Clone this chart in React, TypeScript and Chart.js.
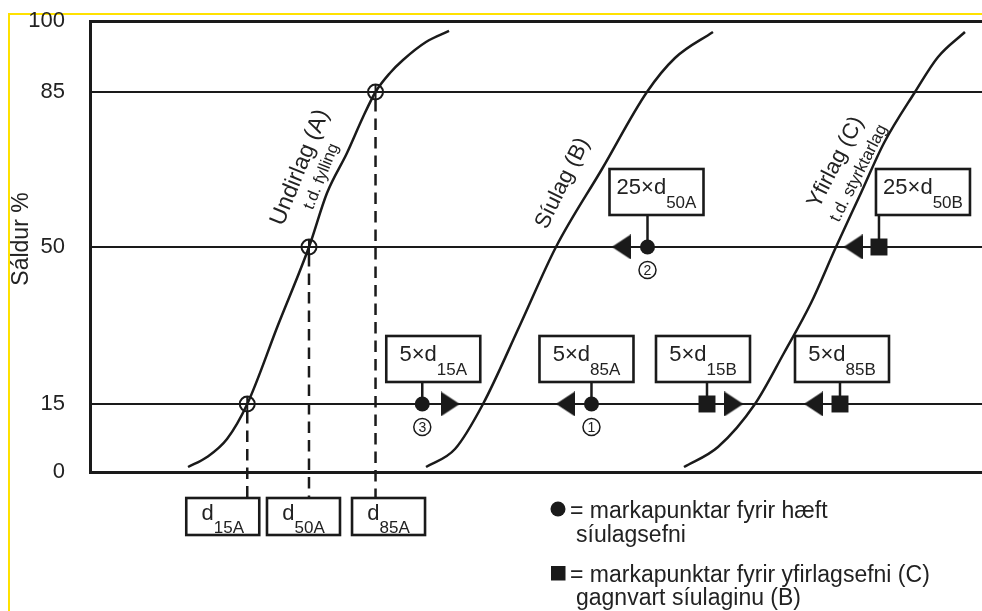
import React, { useEffect, useRef } from 'react';
import { Chart, registerables, LinearScale } from 'chart.js';

Chart.register(...registerables);

// ---------- data ----------
const yTicks = [0, 15, 50, 85, 100];
// fraction of the axis height at which each tick value sits (the original axis is not uniform)
const yTickFractions = [0, 0.1508, 0.4989, 0.8426, 1];

// grading curves (x: relative grain size index 0-100, y: passing %)
const curveA_x = [10.99, 13.12, 15.36, 17.63, 21.08, 24.55, 26.57, 28.81, 30.61, 32.01, 33.63, 35.09, 37.67, 40.25];
const curveA_y = [1.1, 3.31, 7.28, 15, 32.61, 50, 62.19, 71.22, 79.35, 85, 89.01, 91.76, 95.56, 97.89];
const curveB_x = [37.67, 40.92, 44.06, 48.21, 52.24, 57.4, 62.44, 65.58, 69.84];
const curveB_y = [1.1, 5.07, 15, 32.61, 50, 67.61, 85, 92.18, 97.68];
const curveC_x = [66.59, 70.4, 74.55, 77.8, 80.83, 83.63, 86.43, 89.01, 92.49, 95.07, 98.09];
const curveC_y = [1.1, 5.52, 15, 26.37, 37.51, 50, 62.19, 73.48, 85, 92.39, 97.68];

// characteristic points of the base layer (A)
const gradeA_x = [17.63, 24.55, 32.01];
const gradeA_y = [15, 50, 85];
const gradeA_sub = ['15A', '50A', '85A'];

// filter criteria for layer B (circles) and for layer C (squares)
const critB_x = [37.25, 56.22, 62.5];
const critB_y = [15, 15, 50];
const critB_main = ['5×d', '5×d', '25×d'];
const critB_sub = ['15A', '85A', '50A'];
const critB_num = ['3', '1', '2'];
const critC_x = [69.17, 84.08, 88.45];
const critC_y = [15, 15, 50];
const critC_main = ['5×d', '5×d', '25×d'];
const critC_sub = ['15B', '85B', '50B'];

// direction arrows (min bounds point right, max bounds point left)
const arrowRight_x = [40.38, 72.17];
const arrowRight_y = [15, 15];
const arrowLeft_x = [53.31, 81.11, 59.57, 85.55];
const arrowLeft_y = [15, 15, 50, 50];

// curve labels
const curveLabelText = ['Undirlag (A)', 't.d. fylling', 'Síulag (B)', 'Yfirlag (C)', 't.d. styrktarlag'];
const curveLabel_x = [23.54, 25.95, 52.99, 83.61, 86.19];
const curveLabel_y = [67.95, 65.92, 64.38, 69.12, 66.64];

const yTitle = 'Sáldur %';
const legendLines = [
  '= markapunktar fyrir hæft',
  'síulagsefni',
  '= markapunktar fyrir yfirlagsefni (C)',
  'gagnvart síulaginu (B)',
];

// ---------- layout / style ----------
const INK = '#1a1a1a';
const TEXT = '#222222';
const FONT = "'Liberation Sans', Arial, Helvetica, sans-serif";
const critB_boxDx = [-36, -52, -38];
const critC_boxDx = [-51, -45, -3];
const gradeBoxDx = [-61, -42, -23.5];
const curveLabelStyle = [
  { size: 23, angle: -68 },
  { size: 16.5, angle: -68 },
  { size: 22, angle: -64 },
  { size: 22, angle: -63 },
  { size: 17, angle: -63 },
];

function interp(v: number, xs: number[], ys: number[]) {
  let i = 0;
  while (i < xs.length - 2 && v > xs[i + 1]) i++;
  const t = (v - xs[i]) / (xs[i + 1] - xs[i]);
  return ys[i] + t * (ys[i + 1] - ys[i]);
}

class SegmentedScale extends LinearScale {
  static id = 'segmented';
  static defaults = { ...(LinearScale as any).defaults };
  getPixelForValue(value: number) {
    if (value === null || value === undefined || Number.isNaN(value)) return NaN;
    return (this as any).getPixelForDecimal(interp(value, yTicks, yTickFractions));
  }
  getValueForPixel(pixel: number) {
    return interp((this as any).getDecimalForPixel(pixel), yTickFractions, yTicks);
  }
}
Chart.register(SegmentedScale as any);

const pts = (xs: number[], ys: number[]) => xs.map((x, i) => ({ x, y: ys[i] }));

function makeTriangle(): HTMLCanvasElement {
  const c = document.createElement('canvas');
  c.width = 19;
  c.height = 25;
  const g = c.getContext('2d')!;
  g.fillStyle = INK;
  g.beginPath();
  g.moveTo(0, 0);
  g.lineTo(19, 12.5);
  g.lineTo(0, 25);
  g.closePath();
  g.fill();
  return c;
}

function drawBox(ctx: CanvasRenderingContext2D, left: number, top: number, w: number, h: number,
  main: string, sub: string, mainBase: number, subBase: number) {
  ctx.save();
  ctx.fillStyle = '#ffffff';
  ctx.fillRect(left, top, w, h);
  ctx.lineWidth = 2.6;
  ctx.strokeStyle = INK;
  ctx.strokeRect(left, top, w, h);
  ctx.font = `22px ${FONT}`;
  const mw = ctx.measureText(main).width;
  ctx.font = `17px ${FONT}`;
  const sw = ctx.measureText(sub).width;
  const start = left + (w - mw - sw) / 2;
  ctx.fillStyle = TEXT;
  ctx.textAlign = 'left';
  ctx.textBaseline = 'alphabetic';
  ctx.font = `22px ${FONT}`;
  ctx.fillText(main, start, top + mainBase);
  ctx.font = `17px ${FONT}`;
  ctx.fillText(sub, start + mw, top + subBase);
  ctx.restore();
}

const zeroPadding = (s: any) => {
  s.paddingTop = 0;
  s.paddingBottom = 0;
  s.paddingLeft = 0;
  s.paddingRight = 0;
};

const annotations = {
  id: 'sieveAnnotations',
  beforeDatasetsDraw(chart: any) {
    const { ctx, chartArea } = chart;
    const x = chart.scales.x;
    const y = chart.scales.y;
    ctx.save();
    ctx.strokeStyle = INK;
    ctx.lineWidth = 2.5;
    // dashed drop lines from the d-points
    ctx.setLineDash([11.5, 7]);
    gradeA_x.forEach((v, i) => {
      const px = x.getPixelForValue(v);
      const py = y.getPixelForValue(gradeA_y[i]);
      ctx.beginPath();
      ctx.moveTo(px, py + 8);
      ctx.lineTo(px, chartArea.bottom + 26);
      ctx.stroke();
    });
    ctx.setLineDash([]);
    // stems from markers to boxes
    const stems = (xs: number[], ys: number[]) => xs.forEach((v, i) => {
      const px = x.getPixelForValue(v);
      const py = y.getPixelForValue(ys[i]);
      const gap = ys[i] >= 50 ? 32 : 22;
      ctx.beginPath();
      ctx.moveTo(px, py);
      ctx.lineTo(px, py - gap);
      ctx.stroke();
    });
    stems(critB_x, critB_y);
    stems(critC_x, critC_y);
    ctx.restore();
  },
  afterDatasetsDraw(chart: any) {
    const { ctx, chartArea } = chart;
    const x = chart.scales.x;
    const y = chart.scales.y;

    // criteria boxes
    const boxes = (xs: number[], ys: number[], dx: number[], main: string[], sub: string[]) => xs.forEach((v, i) => {
      const px = x.getPixelForValue(v);
      const py = y.getPixelForValue(ys[i]);
      const gap = ys[i] >= 50 ? 32 : 22;
      const h = 46;
      const top = py - gap - h;
      drawBox(ctx, px + dx[i], top, 94, h, main[i], sub[i], 25.5, 39.5);
    });
    boxes(critB_x, critB_y, critB_boxDx, critB_main, critB_sub);
    boxes(critC_x, critC_y, critC_boxDx, critC_main, critC_sub);

    // d-point boxes below the axis
    gradeA_x.forEach((v, i) => {
      const px = x.getPixelForValue(v);
      drawBox(ctx, px + gradeBoxDx[i], chartArea.bottom + 26, 73, 37, 'd', gradeA_sub[i], 22, 35);
    });

    // circled numbers
    ctx.save();
    critB_x.forEach((v, i) => {
      const px = x.getPixelForValue(v);
      const py = y.getPixelForValue(critB_y[i]) + 23;
      ctx.beginPath();
      ctx.arc(px, py, 8.5, 0, Math.PI * 2);
      ctx.fillStyle = '#ffffff';
      ctx.fill();
      ctx.lineWidth = 1.5;
      ctx.strokeStyle = INK;
      ctx.stroke();
      ctx.fillStyle = TEXT;
      ctx.font = `14px ${FONT}`;
      ctx.textAlign = 'center';
      ctx.textBaseline = 'middle';
      ctx.fillText(critB_num[i], px, py + 1);
    });
    ctx.restore();

    // curve labels
    ctx.save();
    ctx.fillStyle = TEXT;
    ctx.textAlign = 'center';
    ctx.textBaseline = 'middle';
    curveLabelText.forEach((t, i) => {
      const px = x.getPixelForValue(curveLabel_x[i]);
      const py = y.getPixelForValue(curveLabel_y[i]);
      ctx.save();
      ctx.translate(px, py);
      ctx.rotate((curveLabelStyle[i].angle * Math.PI) / 180);
      ctx.font = `${curveLabelStyle[i].size}px ${FONT}`;
      ctx.fillText(t, 0, 0);
      ctx.restore();
    });
    ctx.restore();

    // y title
    ctx.save();
    ctx.translate(28.3, 239);
    ctx.rotate(-Math.PI / 2);
    ctx.font = `23px ${FONT}`;
    ctx.fillStyle = TEXT;
    ctx.textAlign = 'center';
    ctx.textBaseline = 'alphabetic';
    ctx.fillText(yTitle, 0, 0);
    ctx.restore();

    // legend
    const b = chartArea.bottom;
    ctx.save();
    ctx.fillStyle = INK;
    ctx.beginPath();
    ctx.arc(558, b + 37, 7.5, 0, Math.PI * 2);
    ctx.fill();
    ctx.fillRect(551, b + 94, 14.5, 14.5);
    ctx.fillStyle = TEXT;
    ctx.font = `23px ${FONT}`;
    ctx.textAlign = 'left';
    ctx.textBaseline = 'alphabetic';
    ctx.fillText(legendLines[0], 570, b + 46);
    ctx.fillText(legendLines[1], 576, b + 69.5);
    ctx.fillText(legendLines[2], 570, b + 109.5);
    ctx.fillText(legendLines[3], 576, b + 132.5);
    ctx.restore();
  },
};

export default function App() {
  const ref = useRef<HTMLCanvasElement>(null);
  useEffect(() => {
    const canvas = ref.current;
    if (!canvas) return;
    const tri = makeTriangle();
    const curve = (label: string, xs: number[], ys: number[]) => ({
      label,
      data: pts(xs, ys),
      showLine: true,
      borderColor: INK,
      borderWidth: 2.5,
      pointRadius: 0,
      cubicInterpolationMode: 'monotone',
      fill: false,
    });
    const chart = new Chart(canvas, {
      type: 'scatter',
      data: {
        datasets: [
          { label: 'd ring', data: pts(gradeA_x, gradeA_y), pointStyle: 'circle', pointRadius: 7.5, pointBorderWidth: 2, pointBorderColor: INK, pointBackgroundColor: 'rgba(255,255,255,0)' },
          { label: 'd cross', data: pts(gradeA_x, gradeA_y), pointStyle: 'cross', pointRadius: 7.5, pointBorderWidth: 2, pointBorderColor: INK },
          { label: 'criteria B', data: pts(critB_x, critB_y), pointStyle: 'circle', pointRadius: 7.5, pointBorderWidth: 0, pointBackgroundColor: INK },
          { label: 'criteria C', data: pts(critC_x, critC_y), pointStyle: 'rect', pointRadius: 12, pointBorderWidth: 0, pointBackgroundColor: INK },
          { label: 'min arrows', data: pts(arrowRight_x, arrowRight_y), pointStyle: tri, pointRadius: 10, pointRotation: 0 },
          { label: 'max arrows', data: pts(arrowLeft_x, arrowLeft_y), pointStyle: tri, pointRadius: 10, pointRotation: 180 },
          curve('A', curveA_x, curveA_y),
          curve('B', curveB_x, curveB_y),
          curve('C', curveC_x, curveC_y),
        ] as any,
      },
      options: {
        animation: false,
        responsive: false,
        devicePixelRatio: 1,
        events: [],
        layout: { autoPadding: false, padding: { top: 21, left: 0, right: 0, bottom: 0 } },
        plugins: { legend: { display: false }, tooltip: { enabled: false }, title: { display: false } },
        scales: {
          x: {
            type: 'linear',
            min: 0,
            max: 100,
            position: 'bottom',
            ticks: { display: false },
            grid: { display: false, drawTicks: false },
            border: { display: true, width: 3, color: INK },
            afterFit: (s: any) => { s.height = 139; zeroPadding(s); },
          },
          y: {
            type: 'segmented',
            min: 0,
            max: 100,
            position: 'left',
            afterBuildTicks: (s: any) => { s.ticks = yTicks.map((v) => ({ value: v })); },
            ticks: { font: { family: FONT, size: 22 }, color: TEXT, padding: 25, callback: (v: any) => String(v) },
            grid: {
              color: INK,
              drawTicks: false,
              lineWidth: (c: any) => (c.tick && c.tick.value === 100 ? 3 : c.tick && c.tick.value === 0 ? 0 : 2),
            },
            border: { width: 3, color: INK },
            afterFit: (s: any) => { s.width = 90; zeroPadding(s); },
          },
        } as any,
      },
      plugins: [annotations],
    } as any);
    return () => chart.destroy();
  }, []);
  return (
    <div style={{ position: 'fixed', left: 0, top: 0, width: 982, height: 611, background: '#ffffff', overflow: 'hidden' }}>
      <div style={{ position: 'absolute', left: 8, top: 13, right: 0, bottom: 0, borderTop: '2px solid #FFE100', borderLeft: '2px solid #FFE100', pointerEvents: 'none', zIndex: 0 }} />
      <canvas ref={ref} width={982} height={611} style={{ position: 'relative', zIndex: 1, display: 'block', width: 982, height: 611 }} />
    </div>
  );
}
